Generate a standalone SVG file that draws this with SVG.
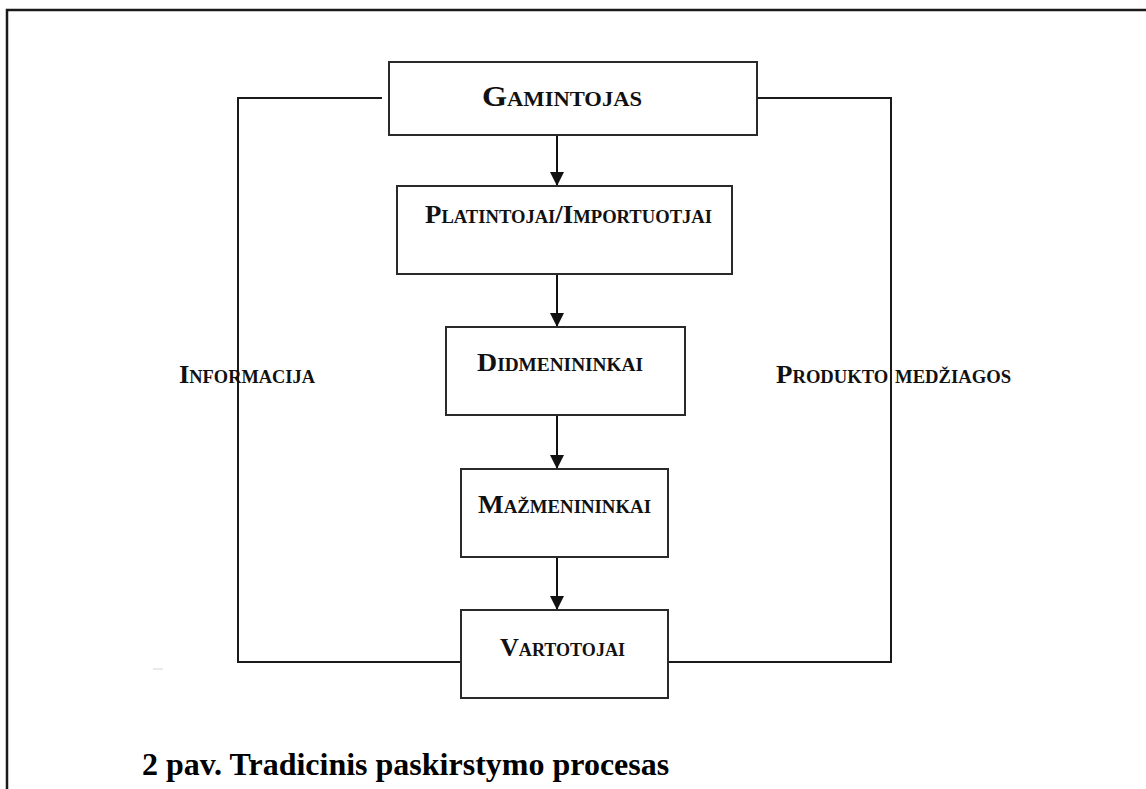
<svg xmlns="http://www.w3.org/2000/svg" width="1146" height="789" viewBox="0 0 1146 789">
  <style>
    .box { fill: #ffffff; stroke: #2a2a2a; stroke-width: 2; }
    .wire { fill: none; stroke: #1a1a1a; stroke-width: 2; }
    .flow { fill: none; stroke: #111111; stroke-width: 2; marker-end: url(#arrow); }
    .lbl { font-family: "Liberation Serif", "Times New Roman", serif; font-weight: bold; font-variant: small-caps; fill: #111111; }
    .cap { font-family: "Liberation Serif", "Times New Roman", serif; font-weight: bold; font-size: 32px; fill: #000000; }
  </style>
  <defs>
    <marker id="arrow" markerWidth="14" markerHeight="14" refX="14" refY="7" orient="auto" markerUnits="userSpaceOnUse">
      <path d="M0,0 L14,7 L0,14 Z" fill="#111111"/>
    </marker>
  </defs>

  <rect width="1146" height="789" fill="#ffffff"/>

  <!-- page frame (top and left edges) -->
  <path d="M7,789 V10 H1146" fill="none" stroke="#1a1a1a" stroke-width="2.5"/>

  <!-- connectors -->
  <g id="connectors">
    <path class="flow" d="M557,135 V186"/>
    <path class="flow" d="M557,274 V327"/>
    <path class="flow" d="M557,415 V469"/>
    <path class="flow" d="M557,557 V610"/>
    <path class="wire" d="M382,98 H238 V662 H461"/>
    <path class="wire" d="M748,98 H891 V662 H668"/>
    <line x1="153" y1="669" x2="163" y2="669" stroke="#e2e2e2" stroke-width="1.5"/>
  </g>

  <g id="gamintojas">
    <rect class="box" x="389" y="62" width="368" height="73"/>
    <text class="lbl" x="482" y="106" font-size="30" textLength="160" lengthAdjust="spacingAndGlyphs">Gamintojas</text>
  </g>

  <g id="platintojai">
    <rect class="box" x="397" y="186" width="335" height="88"/>
    <text class="lbl" x="425" y="223" font-size="26" textLength="287" lengthAdjust="spacingAndGlyphs">Platintojai/Importuotjai</text>
  </g>

  <g id="didmenininkai">
    <rect class="box" x="446" y="327" width="239" height="88"/>
    <text class="lbl" x="477" y="371" font-size="26" textLength="166" lengthAdjust="spacingAndGlyphs">Didmenininkai</text>
  </g>

  <g id="mazmenininkai">
    <rect class="box" x="461" y="469" width="207" height="88"/>
    <text class="lbl" x="478" y="513" font-size="26" textLength="173" lengthAdjust="spacingAndGlyphs">Mažmenininkai</text>
  </g>

  <g id="vartotojai">
    <rect class="box" x="461" y="610" width="207" height="88"/>
    <text class="lbl" x="500" y="656" font-size="26" textLength="125" lengthAdjust="spacingAndGlyphs">Vartotojai</text>
  </g>

  <g id="label-informacija">
    <text class="lbl" x="179" y="383" font-size="26" textLength="136" lengthAdjust="spacingAndGlyphs">Informacija</text>
  </g>

  <g id="label-produkto">
    <text class="lbl" x="776" y="383" font-size="26" textLength="235" lengthAdjust="spacingAndGlyphs">Produkto medžiagos</text>
  </g>

  <text class="cap" x="142" y="775">2 pav. Tradicinis paskirstymo procesas</text>
</svg>
